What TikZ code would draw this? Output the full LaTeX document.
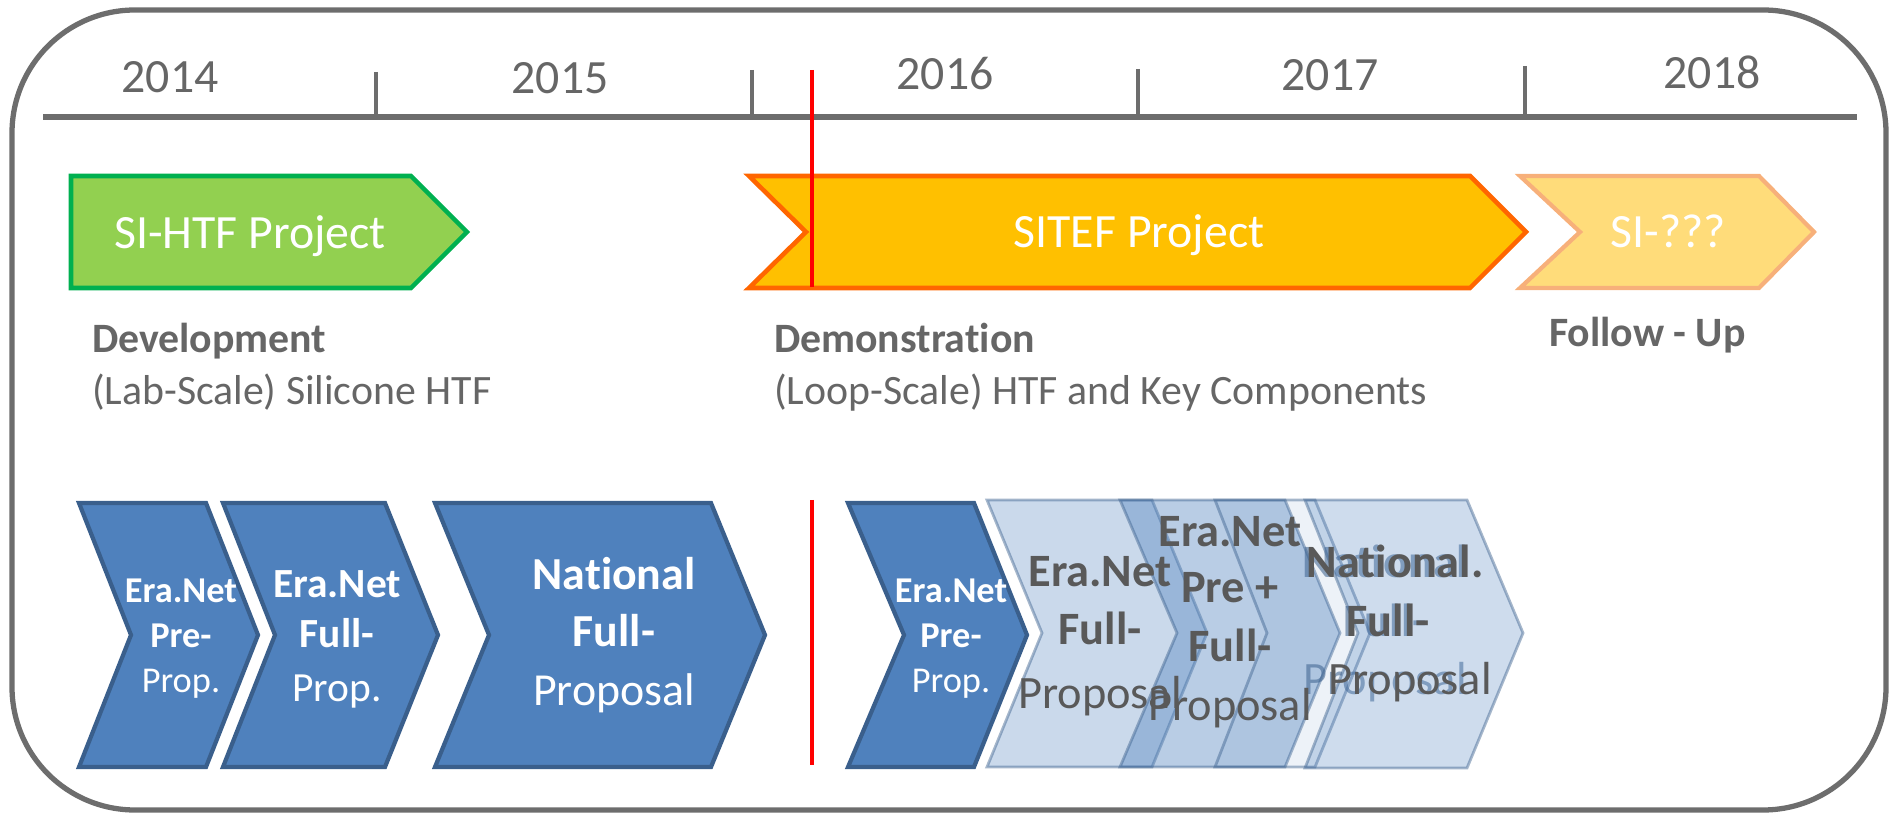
\documentclass[tikz,border=0pt]{standalone}
\usepackage{fontspec}
\setmainfont{Carlito}[Ligatures=NoCommon]
\definecolor{gtext}{HTML}{666666}
\definecolor{dtext}{HTML}{595959}
\definecolor{framec}{HTML}{6D6D6D}
\definecolor{grfill}{HTML}{92D050}
\definecolor{grline}{HTML}{00B050}
\definecolor{orfill}{HTML}{FFC000}
\definecolor{orline}{HTML}{FF6600}
\definecolor{lofill}{HTML}{FFDC7A}
\definecolor{loline}{HTML}{F7B07A}
\definecolor{blfill}{HTML}{4F81BD}
\definecolor{blline}{HTML}{3A5F8C}
\begin{document}
\begin{tikzpicture}[x=0.02cm,y=-0.02cm,line join=miter,
  lbl/.style={inner sep=0pt,outer sep=0pt},
  year/.style={lbl,anchor=base,text=gtext,font=\fontsize{27.2pt}{32pt}\selectfont},
  ptext/.style={lbl,anchor=base,text=white,font=\fontsize{27.2pt}{32pt}\selectfont},
  dhead/.style={lbl,anchor=base west,text=gtext,font=\bfseries\fontsize{23.8pt}{28pt}\selectfont},
  dbody/.style={lbl,anchor=base west,text=gtext,font=\fontsize{23.8pt}{28pt}\selectfont},
  solidchev/.style={fill=blfill,draw=blline,line width=2.4pt},
  lightchev/.style={fill=blfill,fill opacity=#1,draw=blline,draw opacity=0.45,line width=1.6pt},
  wsb/.style={lbl,anchor=base,text=white,font=\bfseries\fontsize{20.7pt}{24pt}\selectfont},
  wsr/.style={lbl,anchor=base,text=white,font=\fontsize{20.7pt}{24pt}\selectfont},
  wmb/.style={lbl,anchor=base,text=white,font=\bfseries\fontsize{23.6pt}{28pt}\selectfont},
  wmr/.style={lbl,anchor=base,text=white,font=\fontsize{23.6pt}{28pt}\selectfont},
  wlb/.style={lbl,anchor=base,text=white,font=\bfseries\fontsize{26.1pt}{30pt}\selectfont},
  wlr/.style={lbl,anchor=base,text=white,font=\fontsize{26.1pt}{30pt}\selectfont},
  glb/.style={lbl,anchor=base,text=dtext,font=\bfseries\fontsize{26.4pt}{30pt}\selectfont},
  glr/.style={lbl,anchor=base,text=dtext,font=\fontsize{26.4pt}{30pt}\selectfont},
  redline/.style={draw=red,line width=2.2pt}]
\useasboundingbox (0,0) rectangle (1890,813);
% frame
\draw[framec,line width=3pt,rounded corners=70pt] (12,10) rectangle (1886,810);
% timeline
\coordinate (tlA) at (43,117);
\coordinate (tlB) at (1857,117);
\draw[framec,line width=2.9pt] (tlA) -- (tlB);
\foreach \x/\t in {376/72,752/70,1138/69,1525/66}{
  \draw[framec,line width=2.4pt] (\x,\t) -- (\x,117);
}
\node[year] (y2014) at (170,93) {2014};
\node[year] (y2015) at (560,94) {2015};
\node[year] (y2016) at (945,90) {2016};
\node[year] (y2017) at (1330,91) {2017};
\node[year] (y2018) at (1712,89) {2018};
% top project arrows
\draw[fill=grfill,draw=grline,line width=2.6pt] (71,176) -- (411,176) -- (467,232) -- (411,288) -- (71,288) -- cycle;
\draw[fill=orfill,draw=orline,line width=2.6pt] (749,176) -- (1470,176) -- (1526,232) -- (1470,288) -- (749,288) -- (806,232) -- cycle;
\draw[fill=lofill,draw=loline,line width=2.4pt] (1520,176) -- (1759,176) -- (1814,232) -- (1759,288) -- (1520,288) -- (1580,232) -- cycle;
\node[ptext] (sihtf) at (250,249) {SI-HTF Project};
\node[ptext] (sitef) at (1139,248) {SITEF Project};
\node[ptext] (siq) at (1668,248) {SI-???};
\coordinate (r1a) at (812,70);
\coordinate (r1b) at (812,287);
\draw[redline] (r1a) -- (r1b);
% descriptions
\node[dhead] (dev) at (92,353) {Development};
\node[dbody] (devb) at (92,405) {(Lab-Scale) Silicone HTF};
\node[dhead] (demo) at (774,353) {Demonstration};
\node[dbody] (demob) at (774,405) {(Loop-Scale) HTF and Key Components};
\node[dhead] (fol) at (1549,347) {Follow - Up};
% bottom solid chevrons
\draw[solidchev] (79,503) -- (206,503) -- (258,635) -- (206,767) -- (79,767) -- (131,635) -- cycle;
\draw[solidchev] (223,503) -- (385,503) -- (438,635) -- (385,767) -- (223,767) -- (275,635) -- cycle;
\draw[solidchev] (435,503) -- (711,503) -- (765,635) -- (711,767) -- (435,767) -- (489,635) -- cycle;
\draw[solidchev] (848,503) -- (974,503) -- (1027,635) -- (974,767) -- (848,767) -- (904,635) -- cycle;
\node[wsb] (c1a) at (181,603) {Era.Net};
\node[wsb] (c1b) at (181,648) {Pre-};
\node[wsr] (c1c) at (181,693) {Prop.};
\node[wmb] (c2a) at (337,598) {Era.Net};
\node[wmb] (c2b) at (337,648) {Full-};
\node[wmr] (c2c) at (337,702) {Prop.};
\node[wlb] (c3a) at (614,590) {National};
\node[wlb] (c3b) at (614,647) {Full-};
\node[wlr] (c3c) at (614,705) {Proposal};
\node[wsb] (c4a) at (951,603) {Era.Net};
\node[wsb] (c4b) at (951,648) {Pre-};
\node[wsr] (c4c) at (951,693) {Prop.};
\coordinate (r2a) at (812,500);
\coordinate (r2b) at (812,765);
\draw[redline] (r2a) -- (r2b);
% overlapping light chevrons
\draw[lightchev=0.3] (987,500) -- (1152,500) -- (1207,633) -- (1152,767) -- (987,767) -- (1042,633) -- cycle;
\draw[lightchev=0.4] (1120,500) -- (1285,500) -- (1340,633) -- (1285,767) -- (1120,767) -- (1177,633) -- cycle;
\draw[lightchev=0.1] (1215,500) -- (1315,500) -- (1370,633) -- (1315,767) -- (1215,767) -- (1267,633) -- cycle;
\begin{scope}[opacity=0.55]
\node[glb,text=blline] (dfa) at (1385,578) {National};
\node[glb,text=blline] (dfb) at (1385,637) {Full-};
\node[glr,text=blline] (dfc) at (1385,695) {Proposal};
\end{scope}
\draw[lightchev=0.28] (1305,500) -- (1467,500) -- (1523,633) -- (1467,768) -- (1305,768) -- (1358,633) -- cycle;
\node[glb] (aa) at (1100,587) {Era.Net};
\node[glb] (ab) at (1100,645) {Full-};
\node[glr] (ac) at (1100,708) {Proposal};
\node[glb] (ba) at (1230,547) {Era.Net};
\node[glb] (bb) at (1230,603) {Pre +};
\node[glb] (bc) at (1230,662) {Full-};
\node[glr] (bd) at (1230,721) {Proposal};
\node[glb] (da) at (1395,578) {National.};
\node[glb] (db) at (1388,637) {Full-};
\node[glr] (dc) at (1410,695) {Proposal};
\end{tikzpicture}
\end{document}
